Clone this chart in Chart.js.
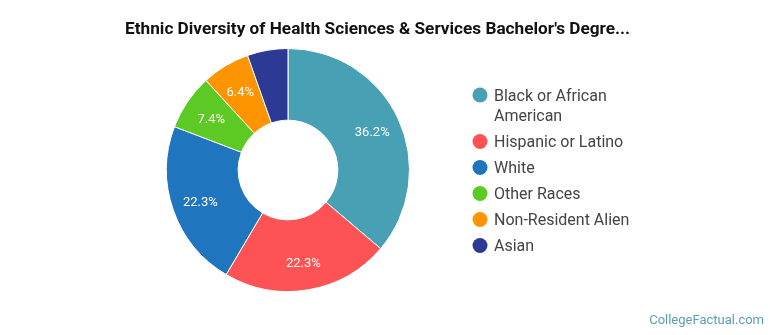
<!DOCTYPE html>
<html>
<head>
<meta charset="utf-8">
<script src="https://cdn.jsdelivr.net/npm/chart.js@4.4.1/dist/chart.umd.min.js"></script>
<style>
  html, body { margin: 0; padding: 0; background: #fff; }
  #wrap { position: relative; width: 770px; height: 335px; }
</style>
</head>
<body>
<div id="wrap"><canvas id="ethnicChart" width="770" height="335"></canvas></div>
<script>
// ---- data ----
const chartTitle = "Ethnic Diversity of Health Sciences & Services Bachelor's Degre...";
const ethnicLabels = [
    ['Black or African', 'American'],
    ['Hispanic or Latino'],
    ['White'],
    ['Other Races'],
    ['Non-Resident Alien'],
    ['Asian']
];
const ethnicShares = [36.2, 22.3, 22.3, 7.4, 6.4, 5.4];
const sliceColors = ['#48a0b5', '#fe5355', '#1f76bf', '#5cc924', '#fe9400', '#2c3a95'];
const sourceText = 'CollegeFactual.com';

const FONT = 'Roboto, "Noto Sans", Arial, sans-serif';

// title + watermark drawn straight on the canvas
const titlePlugin = {
    id: 'titleAndSource',
    afterDraw(chart) {
        const ctx = chart.ctx;
        ctx.save();
        ctx.fillStyle = '#111';
        ctx.font = 'bold 17.2px ' + FONT;
        ctx.textAlign = 'center';
        ctx.textBaseline = 'middle';
        ctx.fillText(chartTitle, 377.5, 29.5);

        ctx.fillStyle = '#5b9fb4';
        ctx.font = '13px ' + FONT;
        ctx.textAlign = 'right';
        ctx.fillText(sourceText, 764, 321);
        ctx.restore();
    }
};

// percentage text in the middle of each ring segment
const sliceLabelPlugin = {
    id: 'sliceLabels',
    afterDatasetsDraw(chart) {
        const ctx = chart.ctx;
        const meta = chart.getDatasetMeta(0);
        ctx.save();
        ctx.fillStyle = '#fff';
        ctx.font = '13px ' + FONT;
        ctx.textAlign = 'center';
        ctx.textBaseline = 'middle';
        meta.data.forEach((arc, i) => {
            const v = ethnicShares[i];
            if (v < 6) return; // too thin for a label
            const p = arc.getProps(['x', 'y', 'startAngle', 'endAngle', 'innerRadius', 'outerRadius'], true);
            const mid = (p.startAngle + p.endAngle) / 2;
            const r = p.innerRadius + (p.outerRadius - p.innerRadius) * 0.6;
            ctx.fillText(v.toFixed(1) + '%', p.x + Math.cos(mid) * r, p.y + Math.sin(mid) * r + 2);
        });
        ctx.restore();
    }
};

// legend on the right with round markers
const sideLegendPlugin = {
    id: 'sideLegend',
    afterDraw(chart) {
        const ctx = chart.ctx;
        let y = 95;
        ctx.save();
        ctx.font = '16px ' + FONT;
        ctx.textBaseline = 'middle';
        ctx.textAlign = 'left';
        ethnicLabels.forEach((lines, i) => {
            ctx.beginPath();
            ctx.arc(480, y, 7.5, 0, Math.PI * 2);
            ctx.fillStyle = sliceColors[i];
            ctx.fill();
            ctx.fillStyle = '#444';
            lines.forEach((t, j) => ctx.fillText(t, 494, y + 1.5 + j * 20.5));
            y += lines.length * 20.5 + 5.5;
        });
        ctx.restore();
    }
};

new Chart(document.getElementById('ethnicChart'), {
    type: 'doughnut',
    data: {
        labels: ethnicLabels,
        datasets: [{
            data: ethnicShares,
            backgroundColor: sliceColors,
            borderColor: '#fff',
            borderWidth: 1
        }]
    },
    options: {
        responsive: false,
        animation: false,
        devicePixelRatio: 1,
        cutout: '41%',
        layout: { padding: { top: 48, bottom: 43, left: 166, right: 360 } },
        plugins: {
            legend: { display: false },
            title: { display: false },
            tooltip: { enabled: false }
        }
    },
    plugins: [sliceLabelPlugin, sideLegendPlugin, titlePlugin]
});
</script>
</body>
</html>
